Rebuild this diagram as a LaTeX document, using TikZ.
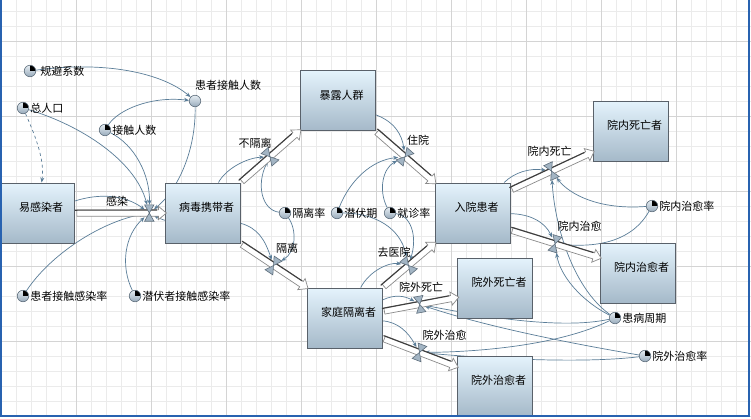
\documentclass[tikz,border=0pt]{standalone}
\usepackage{fontspec}
\newfontfamily\cjk{Noto Sans CJK SC}
\usepackage{xcolor}
\usepackage{tikz}
\usetikzlibrary{positioning, arrows.meta, shapes.arrows, calc, backgrounds}
\definecolor{linkblue}{HTML}{5A7D98}
\definecolor{stocktop}{HTML}{E4F3FC}
\definecolor{stockbot}{HTML}{A5B9C9}
\definecolor{stockline}{HTML}{59616A}
\definecolor{pipegray}{HTML}{8A8A8A}
\definecolor{pipedark}{HTML}{3E3E3E}
\definecolor{valvefill}{HTML}{A3B5C4}
\definecolor{valveline}{HTML}{5E6E7C}
\definecolor{auxtop}{HTML}{E6EDF3}
\definecolor{auxbot}{HTML}{97AABA}
\definecolor{gridminor}{HTML}{EBEBEB}
\definecolor{gridmajor}{HTML}{D4D4D4}
\definecolor{frameblue}{HTML}{2862B0}

\pgfdeclarelayer{grid}
\pgfsetlayers{grid,background,main}

\tikzset{
  stock/.style={draw=stockline, line width=1pt, top color=stocktop, bottom color=stockbot,
    minimum width=75pt, minimum height=60pt, text height=9pt, text depth=12pt,
    execute at begin node={\hspace*{8pt}}},
  aux/.style={circle, draw=valveline, line width=0.6pt, top color=auxtop, bottom color=auxbot,
    minimum size=11.5pt, inner sep=0pt, label distance=3pt},
  const/.style={aux, path picture={\fill[black] (path picture bounding box.center)
    -- (path picture bounding box.east) -- (path picture bounding box.north east)
    -- (path picture bounding box.north) -- cycle;}},
  auxlab/.style={inner sep=1pt},
  flowlab/.style={inner sep=1pt},
  link/.style={draw=linkblue, line width=0.7pt, -{Stealth[length=5pt, width=4pt]}},
  pipebody/.style={single arrow, draw=pipegray, fill=white, line width=0.7pt, inner sep=0pt,
    inner ysep=2.8pt, single arrow head extend=3.5pt, single arrow tip angle=80, minimum width=0pt},
  pipeedge/.style={draw=pipedark, line width=1.1pt, to path={-- (\tikztotarget)}},
  pipe/.style={to path={let \p1=(\tikztostart), \p2=(\tikztotarget),
    \n1={veclen(\x2-\x1,\y2-\y1)} in (\tikztostart) -- (\tikztotarget)
    node[pipebody, midway, sloped, minimum height=\n1] {}
    ($(\tikztostart)!2.8pt!90:(\tikztotarget)$) edge[pipeedge]
    ($($(\tikztotarget)!7.5pt!(\tikztostart)$)!2.8pt!-90:(\tikztostart)$)}},
  valve/.style={rectangle, minimum width=9pt, minimum height=16pt, inner sep=0pt},
  valvetri/.style={fill=valvefill, draw=valveline, line width=0.6pt}
}

\begin{document}
\begin{tikzpicture}[x=1pt, y=-1pt, font=\cjk\fontsize{11}{13}\selectfont]
  \useasboundingbox (0,0) rectangle (751,418);

  % grid
  \begin{pgfonlayer}{grid}
    \fill[white] (0,0) rectangle (751,418);
    \foreach \x in {1,16,...,750} \draw[gridminor, line width=0.8pt] (\x,0) -- (\x,416);
    \foreach \y in {11,26,...,416} \draw[gridminor, line width=0.8pt] (0,\y) -- (751,\y);
    \foreach \x in {1,76,...,750} \draw[gridmajor, line width=0.8pt] (\x,0) -- (\x,416);
    \foreach \y in {41,116,...,416} \draw[gridmajor, line width=0.8pt] (0,\y) -- (751,\y);
  \end{pgfonlayer}

  % stocks
  \node[stock] (sus) at (37,213) {易感染者};
  \node[stock] (car) at (202.5,213) {病毒携带者};
  \node[stock] (exp) at (337.5,100.5) {暴露人群};
  \node[stock] (inp) at (472.5,213) {入院患者};
  \node[stock] (idead) at (630.5,131) {院内死亡者};
  \node[stock] (icure) at (637.5,273) {院内治愈者};
  \node[stock] (home) at (344.5,318) {家庭隔离者};
  \node[stock] (odead) at (495,288) {院外死亡者};
  \node[stock] (ocure) at (494.5,386) {院外治愈者};

  % flows
  \path (sus.east) to[pipe] (car.west);
  \path (car.north east) to[pipe] (exp.south west);
  \path (exp.south east) to[pipe] (inp.north west);
  \path (car.south east) to[pipe] (home.north west);
  \path (home.north east) to[pipe] (inp.south west);
  \path (home.10) to[pipe] (odead.194);
  \path (home.-28) to[pipe] (ocure.153);
  \path (inp.31) to[pipe] (idead.209);
  \path (inp.-24) to[pipe] (icure.158);

  \path (sus.east) -- (car.west) node[valve, sloped, pos=.83] (vinf) {};
  \path (car.north east) -- (exp.south west) node[valve, sloped, midway] (vnoiso) {};
  \path (exp.south east) -- (inp.north west) node[valve, sloped, midway] (vhosp) {};
  \path (car.south east) -- (home.north west) node[valve, sloped, midway] (viso) {};
  \path (home.north east) -- (inp.south west) node[valve, sloped, midway] (vgoh) {};
  \path (home.10) -- (odead.194) node[valve, sloped, midway] (vodead) {};
  \path (home.-28) -- (ocure.153) node[valve, sloped, midway] (vocure) {};
  \path (inp.31) -- (idead.209) node[valve, sloped, midway] (videad) {};
  \path (inp.-24) -- (icure.158) node[valve, sloped, midway] (vicure) {};
  \foreach \v in {vinf,vnoiso,vhosp,viso,vgoh,vodead,vocure,videad,vicure}
    \filldraw[valvetri] (\v.north west) -- (\v.north east) -- (\v.center) -- cycle
      (\v.south west) -- (\v.south east) -- (\v.center) -- cycle;

  \node[flowlab] (tinf) at (117,201) {感染};
  \node[flowlab] (tnoiso) at (255,143) {不隔离};
  \node[flowlab] (thosp) at (418,140) {住院};
  \node[flowlab] (tiso) at (287,248) {隔离};
  \node[flowlab] (tgoh) at (394,252) {去医院};
  \node[flowlab] (todead) at (421,287) {院外死亡};
  \node[flowlab] (tocure) at (444.5,335) {院外治愈};
  \node[flowlab] (tidead) at (549.5,151) {院内死亡};
  \node[flowlab] (ticure) at (579.5,226) {院内治愈};

  % auxiliaries
  \node[const, label={[auxlab, xshift=3pt]right:规避系数}] (avoid) at (30,71) {};
  \node[const, label={[auxlab]right:总人口}] (totpop) at (23,108) {};
  \node[const, label={[auxlab]right:接触人数}] (contact) at (105,130) {};
  \node[aux, label={[auxlab, anchor=south west, xshift=-1pt, yshift=3pt]north:患者接触人数}] (pcont) at (195,101) {};
  \node[const, label={[auxlab]right:患者接触感染率}] (pinf) at (23,296) {};
  \node[const, label={[auxlab]right:潜伏者接触感染率}] (linf) at (135,296) {};
  \node[const, label={[auxlab]right:隔离率}] (isorate) at (285,213) {};
  \node[const, label={[auxlab]right:潜伏期}] (latent) at (337,213) {};
  \node[const, label={[auxlab]right:就诊率}] (visit) at (390,213) {};
  \node[const, label={[auxlab]right:院内治愈率}] (icrate) at (652,206) {};
  \node[const, label={[auxlab]right:患病周期}] (period) at (615,318) {};
  \node[const, label={[auxlab]right:院外治愈率}] (ocrate) at (645,356) {};

  % links
  \begin{scope}[on background layer]
    \draw[link] (avoid) .. controls (110,60) and (165,75) .. (pcont);
    \draw[link, dashed] (totpop) .. controls (35,135) and (45,160) .. (sus);
    \draw[link] (totpop) .. controls (80,125) and (135,160) .. (vinf);
    \draw[link] (contact) .. controls (118,110) and (150,96) .. (pcont);
    \draw[link] (contact) .. controls (135,145) and (150,175) .. (vinf);
    \draw[link] (pcont) .. controls (196,150) and (178,190) .. (vinf);
    \draw[link] (car.center) .. controls (190,225) and (170,224) .. (vinf);
    \draw[link] (sus) .. controls (100,193) and (125,195) .. (vinf);
    \draw[link] (pinf) .. controls (50,255) and (100,222) .. (vinf);
    \draw[link] (linf) .. controls (120,265) and (125,235) .. (vinf);
    \draw[link] (car) .. controls (225,170) and (245,158) .. (vnoiso);
    \draw[link] (isorate) .. controls (262,210) and (256,185) .. (vnoiso);
    \draw[link] (isorate) .. controls (297,230) and (296,252) .. (viso);
    \draw[link] (car) .. controls (258,228) and (265,240) .. (viso);
    \draw[link] (exp) .. controls (395,122) and (402,135) .. (vhosp);
    \draw[link] (latent) .. controls (350,180) and (372,160) .. (vhosp);
    \draw[link] (visit) .. controls (378,190) and (383,168) .. (vhosp);
    \draw[link] (latent) .. controls (375,213) and (400,228) .. (vgoh);
    \draw[link] (visit) .. controls (410,215) and (418,235) .. (vgoh);
    \draw[link] (home) .. controls (370,270) and (390,262) .. (vgoh);
    \draw[link] (home) .. controls (395,294) and (405,296) .. (vodead);
    \draw[link] (home) .. controls (398,322) and (408,332) .. (vocure);
    \draw[link] (period) .. controls (560,330) and (480,316) .. (vodead);
    \draw[link] (ocrate) .. controls (580,345) and (490,328) .. (vodead);
    \draw[link] (period) .. controls (560,345) and (480,352) .. (vocure);
    \draw[link] (ocrate) .. controls (580,364) and (480,358) .. (vocure);
    \draw[link] (inp) .. controls (515,172) and (530,168) .. (videad);
    \draw[link] (inp) .. controls (530,214) and (545,222) .. (vicure);
    \draw[link] (icrate) .. controls (600,210) and (570,195) .. (videad);
    \draw[link] (icrate) .. controls (630,245) and (590,247) .. (vicure);
    \draw[link] (period) .. controls (575,290) and (555,230) .. (videad);
    \draw[link] (period) .. controls (580,300) and (560,275) .. (vicure);
  \end{scope}

  % window frame
  \draw[frameblue, line width=1.5pt] (1,0) -- (1,416) -- (749,416) -- (749,0);
\end{tikzpicture}
\end{document}
